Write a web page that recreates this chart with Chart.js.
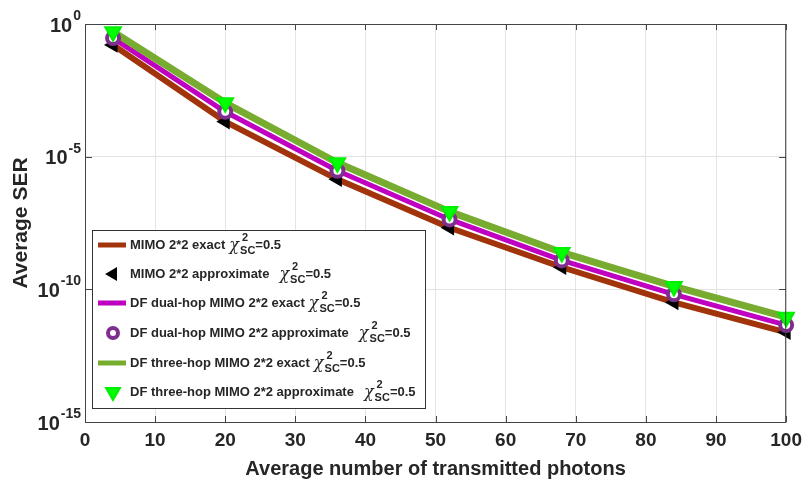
<!DOCTYPE html>
<html>
<head>
<meta charset="utf-8">
<script src="https://cdn.jsdelivr.net/npm/chart.js@4.4.1/dist/chart.umd.min.js"></script>
<style>
  html, body { margin: 0; padding: 0; background: #fff; }
  #wrap { width: 809px; height: 482px; position: relative; }
</style>
</head>
<body>
<div id="wrap"><canvas id="myChart"></canvas></div>
<script>
// photons on the x axis
const photons = [4, 20, 36, 52, 68, 84, 100];

// average SER
const mimoExact = [0.162, 2.1e-4, 1.4e-6, 2.1e-8, 6.8e-10, 3.2e-11, 2.4e-12];
const mimoApprox = [0.162, 2.1e-4, 1.4e-6, 2.1e-8, 6.8e-10, 3.2e-11, 2.4e-12];
const dualExact = [0.295, 4.9e-4, 2.95e-6, 4.3e-8, 1.23e-9, 6.5e-11, 4.5e-12];
const dualApprox = [0.295, 4.9e-4, 2.95e-6, 4.3e-8, 1.23e-9, 6.5e-11, 4.5e-12];
const threeExact = [0.51, 1.07e-3, 5.9e-6, 8.5e-8, 2.45e-9, 1.29e-10, 8.9e-12];
const threeApprox = [0.51, 1.07e-3, 5.9e-6, 8.5e-8, 2.45e-9, 1.29e-10, 8.9e-12];

const xTicks = [0, 10, 20, 30, 40, 50, 60, 70, 80, 90, 100];
const yTicks = [1, 1e-5, 1e-10, 1e-15];

const seriesNames = [
  "MIMO 2*2 exact",
  "MIMO 2*2 approximate",
  "DF dual-hop MIMO 2*2 exact",
  "DF dual-hop MIMO 2*2 approximate",
  "DF three-hop MIMO 2*2 exact",
  "DF three-hop MIMO 2*2 approximate"
];

const pts = (arr) => arr.map((v, i) => ({ x: photons[i], y: v }));

const textCol = "#262626";
const frameCol = "#444";

const datasets = [
  { label: seriesNames[0], data: pts(mimoExact), borderColor: "#A2340C", borderWidth: 6,
    pointRadius: 0, order: 5, kind: "line" },
  { label: seriesNames[1], data: pts(mimoApprox), showLine: false, pointStyle: "triangle",
    pointRotation: -90, pointRadius: 7, pointBackgroundColor: "#000", pointBorderColor: "#000",
    pointBorderWidth: 2, backgroundColor: "#000", borderColor: "#000", order: 2, kind: "point" },
  { label: seriesNames[2], data: pts(dualExact), borderColor: "#C000C0", borderWidth: 5,
    pointRadius: 0, order: 4, kind: "line" },
  { label: seriesNames[3], data: pts(dualApprox), showLine: false, pointStyle: "circle",
    pointRadius: 6, pointBackgroundColor: "#fff", pointBorderColor: "#7E2F8E", pointBorderWidth: 4,
    backgroundColor: "#fff", borderColor: "#7E2F8E", order: 1, kind: "point" },
  { label: seriesNames[4], data: pts(threeExact), borderColor: "#77AC30", borderWidth: 7,
    pointRadius: 0, order: 3, kind: "line" },
  { label: seriesNames[5], data: pts(threeApprox), showLine: false, pointStyle: "triangle",
    pointRotation: 180, pointRadius: 9, pointBackgroundColor: "#00FF00", pointBorderColor: "#00EE00",
    pointBorderWidth: 2, backgroundColor: "#00FF00", borderColor: "#00EE00", order: 0, kind: "point" }
];
datasets.forEach(d => { d.clip = false; d.fill = false; d.tension = 0; });

const deco = {
  id: "deco",
  afterDraw(chart) {
    const ctx = chart.ctx;
    const a = chart.chartArea;
    const xs = chart.scales.x, ys = chart.scales.y;
    ctx.save();

    // frame and inward ticks
    ctx.strokeStyle = frameCol;
    ctx.lineWidth = 1;
    ctx.strokeRect(a.left + 0.5, a.top + 0.5, a.right - a.left - 1, a.bottom - a.top);
    ctx.beginPath();
    xTicks.forEach(t => {
      const x = Math.round(xs.getPixelForValue(t)) + 0.5;
      ctx.moveTo(x, a.bottom); ctx.lineTo(x, a.bottom - 6);
      ctx.moveTo(x, a.top); ctx.lineTo(x, a.top + 6);
    });
    yTicks.forEach(t => {
      const y = Math.round(ys.getPixelForValue(t)) + 0.5;
      ctx.moveTo(a.left, y); ctx.lineTo(a.left + 7, y);
      ctx.moveTo(a.right, y); ctx.lineTo(a.right - 7, y);
    });
    ctx.stroke();

    // y tick labels with superscript exponents
    ctx.fillStyle = textCol;
    ctx.textBaseline = "middle";
    yTicks.forEach(t => {
      const y = ys.getPixelForValue(t);
      const ex = String(Math.round(Math.log10(t)));
      ctx.font = 'bold 14px "Liberation Sans", Arial, sans-serif';
      const we = ctx.measureText(ex).width;
      const xe = 81 - we;
      ctx.textAlign = "left";
      ctx.fillText(ex, xe, y - 8);
      ctx.font = 'bold 20px "Liberation Sans", Arial, sans-serif';
      ctx.textAlign = "right";
      ctx.fillText("10", xe - 1, y + 2);
    });

    // legend
    const lx = 92.5, ly = 230.5, lw = 333, lh = 178;
    ctx.fillStyle = "#fff";
    ctx.fillRect(lx, ly, lw, lh);
    ctx.strokeStyle = "#333";
    ctx.lineWidth = 1;
    ctx.strokeRect(lx, ly, lw, lh);
    const rowY = [245, 274, 303, 333, 363, 392];
    chart.data.datasets.forEach((d, i) => {
      const y = rowY[i];
      if (d.kind === "line") {
        ctx.strokeStyle = d.borderColor;
        ctx.lineWidth = 5;
        ctx.beginPath(); ctx.moveTo(98, y); ctx.lineTo(126, y); ctx.stroke();
      } else {
        ctx.fillStyle = d.pointBackgroundColor;
        ctx.strokeStyle = d.pointBorderColor;
        ctx.lineWidth = d.pointBorderWidth;
        Chart.helpers.drawPoint(ctx, {
          pointStyle: d.pointStyle, rotation: d.pointRotation || 0,
          radius: d.pointRadius - 1, borderWidth: d.pointBorderWidth
        }, 113, y);
      }
      ctx.fillStyle = textCol;
      ctx.textAlign = "left";
      ctx.textBaseline = "middle";
      ctx.font = 'bold 13px "Liberation Sans", Arial, sans-serif';
      ctx.fillText(d.label, 130, y);
      let x = 130 + ctx.measureText(d.label).width + (d.kind === "line" ? 4 : 10);
      ctx.font = 'italic 16px "DejaVu Serif", "Liberation Serif", serif';
      ctx.fillText("\u03C7", x, y + 1);
      x += ctx.measureText("\u03C7").width + 1;
      ctx.font = 'bold 11px "Liberation Sans", Arial, sans-serif';
      ctx.fillText("2", x + 2, y - 7);
      ctx.fillText("SC", x, y + 6);
      x += ctx.measureText("SC").width;
      ctx.font = 'bold 13px "Liberation Sans", Arial, sans-serif';
      ctx.fillText("=0.5", x, y);
    });
    ctx.restore();
  }
};

new Chart(document.getElementById("myChart"), {
  type: "line",
  data: { datasets: datasets },
  options: {
    responsive: true,
    maintainAspectRatio: false,
    animation: false,
    layout: { padding: { left: 0, top: 24, right: 14, bottom: 0 } },
    plugins: { legend: { display: false }, tooltip: { enabled: false } },
    elements: { line: { borderCapStyle: "round", borderJoinStyle: "round" } },
    scales: {
      x: {
        type: "linear", min: 0, max: 100,
        afterBuildTicks: s => { s.ticks = xTicks.map(v => ({ value: v })); },
        afterFit: s => { s.height = 60; },
        grid: { color: "#e3e3e3", drawTicks: false },
        border: { display: false },
        ticks: { padding: 7, color: textCol, font: { family: '"Liberation Sans", Arial, sans-serif', size: 19, weight: "bold" } },
        title: { display: true, text: "Average number of transmitted photons", color: textCol, padding: { top: 0, bottom: 1 },
          font: { family: '"Liberation Sans", Arial, sans-serif', size: 20, weight: "bold" } }
      },
      y: {
        type: "logarithmic", min: 1e-15, max: 1,
        afterBuildTicks: s => { s.ticks = yTicks.map(v => ({ value: v })); },
        afterFit: s => { s.width = 85; },
        grid: { color: "#e3e3e3", drawTicks: false },
        border: { display: false },
        ticks: { display: false },
        title: { display: true, text: "Average SER", color: textCol, padding: { top: 9, bottom: 0 },
          font: { family: '"Liberation Sans", Arial, sans-serif', size: 21, weight: "bold" } }
      }
    }
  },
  plugins: [deco]
});
</script>
</body>
</html>
